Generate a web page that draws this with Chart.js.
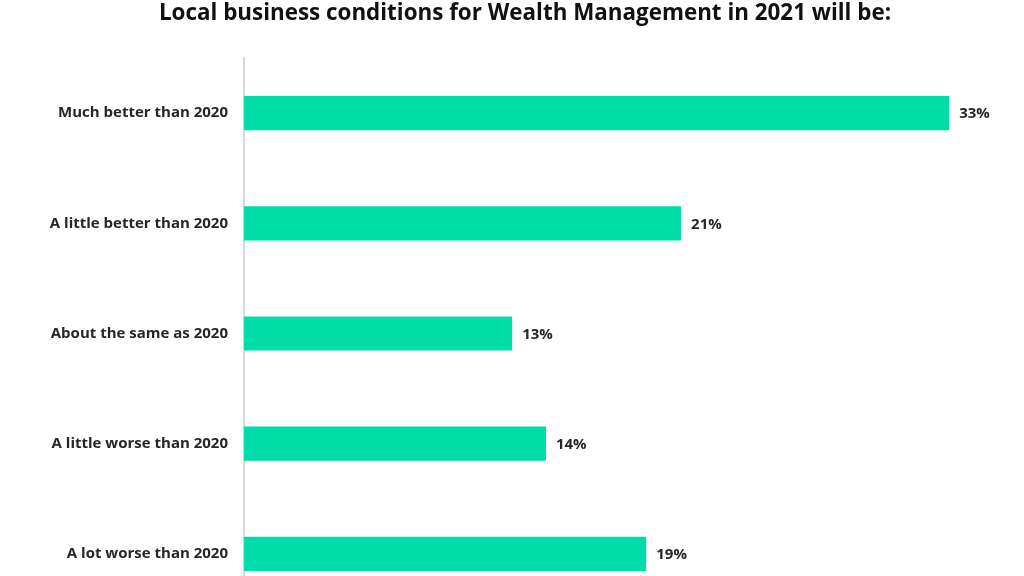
<!DOCTYPE html>
<html>
<head>
<meta charset="utf-8">
<script src="https://cdn.jsdelivr.net/npm/chart.js@4"></script>
<style>
    html, body { margin: 0; padding: 0; background: #fff; overflow: hidden; height: 576px; }
    canvas { display: block; }
</style>
</head>
<body>
<canvas id="myChart" width="1024" height="634"></canvas>
<script>
var chartTitle = 'Local business conditions for Wealth Management in 2021 will be:';
var categories = ['Much better than 2020', 'A little better than 2020', 'About the same as 2020', 'A little worse than 2020', 'A lot worse than 2020'];
// bar lengths (labels are the rounded figures)
var shares = [33.4, 20.7, 12.7, 14.3, 19.05];
var shareLabels = ['33%', '21%', '13%', '14%', '19%'];

// title (slightly right of centre) and the % next to each bar
var textLayer = {
    id: 'textLayer',
    afterDatasetsDraw: function (chart) {
        var ctx = chart.ctx;
        var meta = chart.getDatasetMeta(0);
        ctx.save();
        ctx.font = 'bold 22.4px "Open Sans"';
        ctx.fillStyle = '#111';
        ctx.textBaseline = 'middle';
        ctx.textAlign = 'center';
        ctx.fillText(chartTitle, 525, 14);

        ctx.font = 'bold 15px "Open Sans"';
        ctx.fillStyle = '#262626';
        ctx.textAlign = 'left';
        meta.data.forEach(function (bar, i) {
            ctx.fillText(shareLabels[i], bar.x + 10, bar.y + 1);
        });
        ctx.restore();
    }
};

var ctxBar = document.getElementById('myChart').getContext('2d');
var myChart = new Chart(ctxBar, {
    type: 'bar',
    data: {
        labels: categories,
        datasets: [{
            data: shares,
            backgroundColor: '#00dda9',
            borderWidth: 0,
            barPercentage: 0.31,
            categoryPercentage: 1
        }]
    },
    plugins: [textLayer],
    options: {
        indexAxis: 'y',
        responsive: false,
        animation: false,
        layout: {
            padding: { left: 0, right: 41, top: 58, bottom: 0 }
        },
        scales: {
            x: {
                display: false,
                min: 0,
                max: 35
            },
            y: {
                afterFit: function (scale) { scale.width = 244; },
                grid: { display: false, drawTicks: false },
                border: { display: true, color: '#d9d9d9', width: 2 },
                ticks: {
                    padding: 16,
                    color: '#262626',
                    font: { family: 'Open Sans', size: 15, weight: 'bold' }
                }
            }
        },
        plugins: {
            legend: { display: false },
            tooltip: { enabled: false },
            title: { display: false }
        }
    }
});
</script>
</body>
</html>
